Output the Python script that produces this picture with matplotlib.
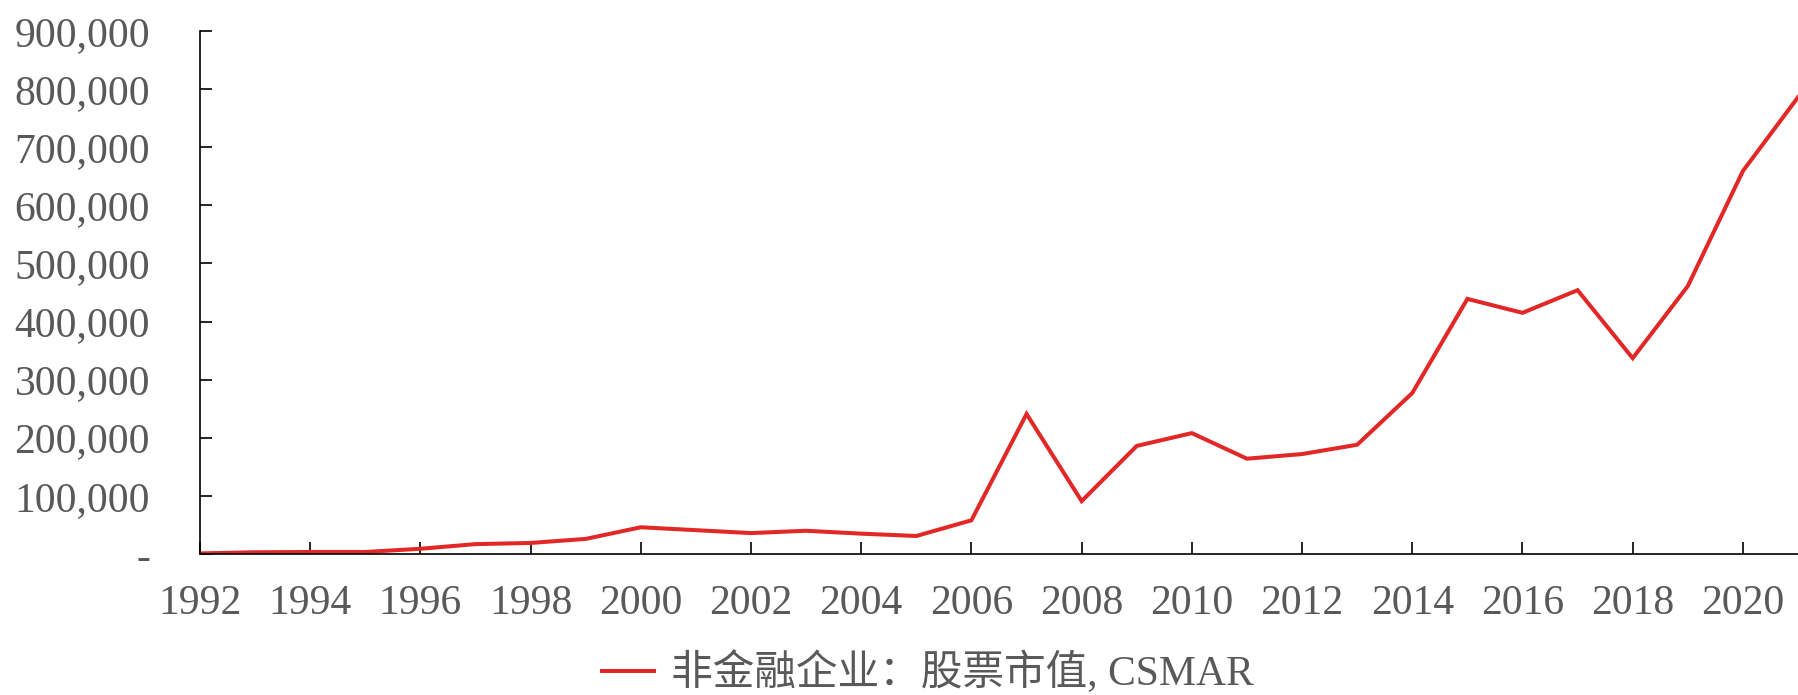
import matplotlib
matplotlib.use("Agg")
import matplotlib.pyplot as plt
from matplotlib.ticker import FuncFormatter

## data ##
years = list(range(1992, 2022))
mktcap = [1000, 3000, 3500, 3500, 9000, 17000, 19000, 26000, 46000, 41000,
          36000, 40000, 35000, 31000, 58000, 241000, 91000, 186000, 208000, 164000,
          172000, 188000, 277000, 439000, 415000, 454000, 337000, 461000, 659000, 786000]
seriesName = "非金融企业：股票市值, CSMAR"
xticks = list(range(1992, 2021, 2))
yticks = list(range(0, 900001, 100000))

## styles ##
red = "#E12826"
grey = "#595959"
fs = 30
fonts = ["Liberation Serif", "Noto Sans CJK SC", "DejaVu Sans"]
plt.rcParams["font.family"] = fonts

fig = plt.figure(figsize=(17.98, 6.95), dpi=100)
ax = fig.add_axes([200/1798, 1 - 554/695, 1 - 200/1798, (554 - 31)/695])

line, = ax.plot(years, mktcap, color=red, linewidth=2.9, solid_joinstyle="miter", label=seriesName)

ax.set_xlim(1992, 2021)
ax.set_ylim(0, 900000)
ax.set_xticks(xticks)
ax.set_yticks(yticks)

def yfmt(v, pos):
    if v == 0:
        return "-"
    return "{:,.0f}".format(v)
ax.yaxis.set_major_formatter(FuncFormatter(yfmt))

for s in ["top", "right"]:
    ax.spines[s].set_visible(False)
for s in ["left", "bottom"]:
    ax.spines[s].set_linewidth(1.2)
    ax.spines[s].set_color("black")

ax.tick_params(axis="y", direction="in", length=8.5, width=1.2, pad=36, labelsize=fs, labelcolor=grey)
ax.tick_params(axis="x", direction="in", length=8.5, width=1.2, pad=22, labelsize=fs, labelcolor=grey)

fig.legend(handles=[line], loc="center", bbox_to_anchor=(0.516, 1 - 673/695), frameon=False,
           fontsize=fs, labelcolor=grey, handlelength=1.25, handletextpad=0.4)

fig.savefig("out.png", dpi=100)
